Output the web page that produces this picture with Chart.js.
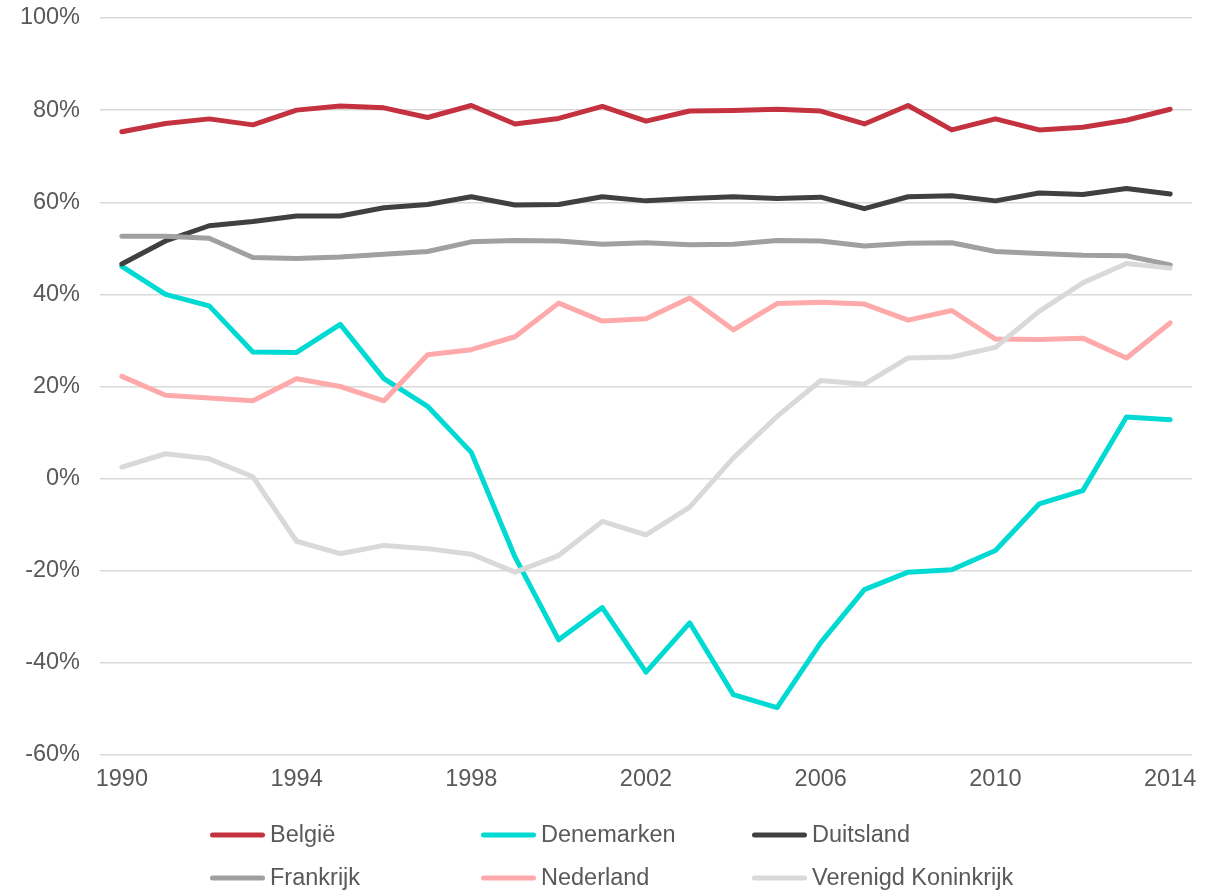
<!DOCTYPE html>
<html>
<head>
<meta charset="utf-8">
<script src="https://cdn.jsdelivr.net/npm/chart.js@4.4.1/dist/chart.umd.min.js"></script>
<style>
  html, body { margin: 0; padding: 0; background: #fff; }
  #wrap { width: 1220px; height: 890px; }
</style>
</head>
<body>
<div id="wrap"><canvas id="lineChart" width="1220" height="890"></canvas></div>
<script>
// jaren
const years = ['1990','1991','1992','1993','1994','1995','1996','1997','1998','1999','2000','2001','2002',
               '2003','2004','2005','2006','2007','2008','2009','2010','2011','2012','2013','2014'];

// waarden in %
const belgie = [75.3, 77.1, 78.1, 76.8, 80.0, 80.9, 80.5, 78.4, 81.0, 77.0, 78.2, 80.8, 77.6,
                79.8, 79.9, 80.2, 79.8, 77.0, 81.0, 75.7, 78.1, 75.7, 76.3, 77.8, 80.2];
const denemarken = [46.1, 40.0, 37.5, 27.5, 27.4, 33.5, 21.7, 15.7, 5.7, -17.0, -35.0, -28.0, -42.0,
                    -31.3, -46.9, -49.7, -35.6, -24.1, -20.3, -19.8, -15.6, -5.5, -2.6, 13.4, 12.8];
const duitsland = [46.6, 51.6, 54.9, 55.8, 57.0, 57.0, 58.8, 59.5, 61.2, 59.4, 59.5, 61.2, 60.3,
                   60.8, 61.2, 60.8, 61.1, 58.6, 61.2, 61.4, 60.3, 62.0, 61.7, 63.0, 61.8];
const frankrijk = [52.6, 52.6, 52.2, 48.0, 47.8, 48.1, 48.7, 49.3, 51.4, 51.7, 51.6, 50.9, 51.2,
                   50.8, 50.9, 51.7, 51.6, 50.5, 51.1, 51.2, 49.3, 48.9, 48.5, 48.4, 46.4];
const nederland = [22.2, 18.1, 17.5, 16.9, 21.7, 20.0, 16.9, 26.9, 28.0, 30.8, 38.1, 34.2, 34.7,
                   39.2, 32.3, 38.0, 38.3, 37.9, 34.4, 36.5, 30.3, 30.2, 30.5, 26.2, 33.8];
const vk = [2.5, 5.4, 4.3, 0.4, -13.6, -16.3, -14.5, -15.2, -16.4, -20.3, -16.7, -9.3, -12.2,
            -6.2, 4.5, 13.5, 21.3, 20.5, 26.2, 26.4, 28.5, 36.3, 42.5, 46.7, 45.7];

const seriesNames = ['België', 'Denemarken', 'Duitsland', 'Frankrijk', 'Nederland', 'Verenigd Koninkrijk'];
const seriesData = [belgie, denemarken, duitsland, frankrijk, nederland, vk];
const seriesColors = ['#C3323E', '#00DAD2', '#404040', '#A0A0A0', '#FFAAAA', '#D9D9D9'];

const fontFamily = '"Liberation Sans", Arial, sans-serif';
const textColor = '#595959';

// legende in drie kolommen onder de grafiek
const gridLegend = {
  id: 'gridLegend',
  afterDraw(chart) {
    const c = chart.ctx;
    const cols = [210, 481, 752];
    const rows = [835, 878];
    c.save();
    c.font = '23.5px ' + fontFamily;
    c.textBaseline = 'middle';
    c.textAlign = 'left';
    seriesNames.forEach(function(name, i) {
      const x = cols[i % 3];
      const y = rows[Math.floor(i / 3)];
      c.strokeStyle = seriesColors[i];
      c.lineWidth = 5;
      c.lineCap = 'round';
      c.beginPath();
      c.moveTo(x + 2.5, y);
      c.lineTo(x + 52.5, y);
      c.stroke();
      c.fillStyle = textColor;
      c.fillText(name, x + 60, y + 1);
    });
    c.restore();
  }
};

const ctx = document.getElementById('lineChart').getContext('2d');
new Chart(ctx, {
  type: 'line',
  data: {
    labels: years,
    datasets: seriesData.map(function(d, i) {
      return {
        label: seriesNames[i],
        data: d,
        borderColor: seriesColors[i],
        backgroundColor: seriesColors[i],
        borderWidth: 5,
        borderCapStyle: 'round',
        borderJoinStyle: 'round',
        pointRadius: 0,
        tension: 0,
        fill: false,
        order: seriesData.length - i
      };
    })
  },
  options: {
    responsive: false,
    animation: false,
    layout: { padding: { top: 18, right: 28, left: 0, bottom: 0 } },
    plugins: {
      legend: { display: false },
      tooltip: { enabled: false }
    },
    scales: {
      x: {
        type: 'category',
        offset: true,
        grid: { display: false, drawTicks: false },
        border: { display: false },
        ticks: {
          autoSkip: false,
          maxRotation: 0,
          padding: 10,
          color: textColor,
          font: { family: fontFamily, size: 23.5 },
          callback: function(val, idx) {
            return idx % 4 === 0 ? years[idx] : null;
          }
        },
        afterFit: function(scale) { scale.height = 135; }
      },
      y: {
        min: -60,
        max: 100,
        grid: { color: '#D9D9D9', lineWidth: 1.5, drawTicks: false },
        border: { display: false },
        ticks: {
          stepSize: 20,
          padding: 20,
          color: textColor,
          font: { family: fontFamily, size: 23.5 },
          callback: function(v) { return v + '%'; }
        },
        afterFit: function(scale) {
          scale.width = 100;
          scale.paddingTop = 0;
          scale.paddingBottom = 0;
        }
      }
    }
  },
  plugins: [gridLegend]
});
</script>
</body>
</html>
